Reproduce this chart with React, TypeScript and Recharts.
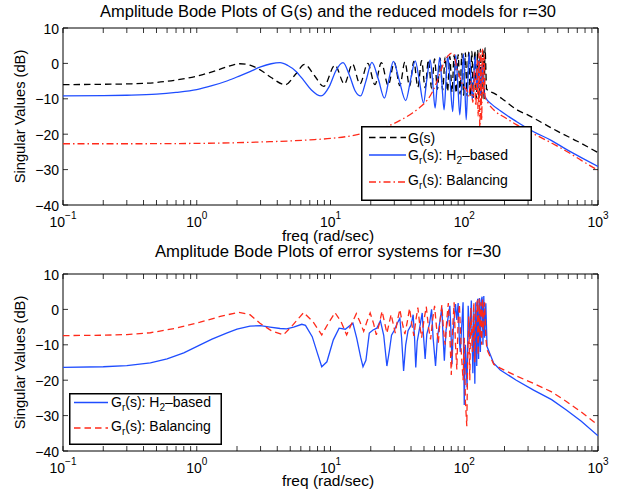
import React from 'react';
import { LineChart, Line, XAxis, YAxis, ReferenceArea, Legend } from 'recharts';

const FONT = '"Liberation Sans", Arial, Helvetica, sans-serif';

// ---- tick labels ----
const xMajorTicks = [0.1, 1, 10, 100, 1000];
const xMajorExponents = ['\u22121', '0', '1', '2', '3'];
const xMinorTicks = [0.2, 0.3, 0.4, 0.5, 0.6, 0.7, 0.8, 0.9, 2, 3, 4, 5, 6, 7, 8, 9, 20, 30, 40, 50, 60, 70, 80, 90, 200, 300, 400, 500, 600, 700, 800, 900];
const yTicks = [-40, -30, -20, -10, 0, 10];
const yTickLabels = ['\u221240', '\u221230', '\u221220', '\u221210', '0', '10'];

// ---- titles ----
const topTitle = 'Amplitude Bode Plots of G(s) and the reduced models for r=30';
const bottomTitle = 'Amplitude Bode Plots of error systems for r=30';
const xLabel = 'freq (rad/sec)';
const yLabel = 'Singular Values (dB)';

// ---- top panel: G(s) ----
const topGFreq = [0.1, 0.2, 0.3, 0.5, 0.7, 1.0, 1.4, 1.8, 2.1, 2.5, 3.0, 3.6, 4.6, 5.5, 6.4, 7.6, 8.9, 10.8, 12.7, 14.6, 16.6, 19.0, 21.5,
  24, 27, 30, 33, 36, 39, 42, 45, 48, 51, 54, 57, 60, 63, 66, 69, 72, 75, 78, 81, 84, 87, 90, 93, 96, 99, 102, 105, 108, 111, 114, 117, 120, 123, 126, 129, 132, 135, 138, 141, 143,
  147, 170, 200, 250, 300, 400, 500, 700, 1000];
const topGDb = [-6.0, -5.9, -5.8, -5.4, -4.7, -3.6, -2.0, -0.6, -0.1, -0.5, -1.9, -4.0, -6.0, -3.0, -0.3, -3.5, -6.5, -0.5, -5.8, -0.2, -5.8, 0.0, -6.0,
  0.2, -6.2, 0.3, -6.3, 0.4, -6.5, 0.6, -6.7, 0.8, -6.9, 1.0, -7.1, 1.3, -7.3, 1.5, -7.6, 1.8, -7.9, 2.0, -8.1, 2.3, -8.4, 2.5, -8.7, 2.8, -9.0, 3.0, -9.2, 3.2, -9.4, 3.4, -9.6, 3.6, -9.8, 3.8, -9.9, 4.0, -10.0, 4.2, -10.1, 4.4,
  -7.3, -8.6, -10.5, -13.2, -14.6, -17.2, -19.2, -22.0, -25.2];

// ---- top panel: Gr(s) H2-based ----
const topH2Freq = [0.1, 0.2, 0.3, 0.5, 0.7, 1.0, 1.3, 1.7, 2.1, 2.5, 3.0, 3.6, 4.2, 4.8, 5.5, 6.3, 7.2, 8.5, 9.8, 11.0, 12.4, 13.9, 15.3, 16.8, 18.4, 20.4, 22.8, 25.3, 27.5, 29.5, 32.5, 36.5, 40.0, 43.0, 46.0, 49.6, 52.5, 55.6, 58.0, 60.5, 63.0, 65.5, 68.0, 70.7, 73.0, 75.1, 78.5, 82.0, 84.2, 86.4, 89.5, 92.6, 95.7, 98.8, 101, 103.4, 106, 109, 112, 115, 118, 121, 125, 129, 133, 137, 141, 145, 160, 186, 245, 330, 450, 580, 750, 1000];
const topH2Db = [-9.2, -9.1, -9.0, -8.7, -8.2, -7.4, -6.3, -4.9, -3.5, -2.3, -1.0, -0.1, 0.2, -0.6, -2.2, -4.8, -7.5, -9.2, -6.5, -2.0, 0.2, -3.5, -7.8, -9.2, -5.0, 0.3, -4.5, -9.8, -4.0, 0.6, -4.5, -10.5, -4.0, 0.7, -4.5, -11.2, -4.5, 1.0, -5.0, -12.6, -5.0, 1.7, -5.5, -13.1, -5.0, 2.1, -5.5, -13.6, -5.0, 2.4, -6.0, -14.5, -6.0, 2.7, -6.5, -15.9, -6.5, 2.9, -4.0, -10.3, -3.0, 2.0, -8.0, 1.0, -9.0, 0.5, -8.5, -9.8, -11.5, -13.4, -16.4, -19.3, -21.8, -24.3, -26.6, -29.1];

// ---- top panel: Gr(s) Balancing ----
const topBalFreq = [0.1, 0.3, 1.0, 2.0, 3.0, 5.0, 7.0, 10, 13, 17, 22, 29, 35, 41, 46, 50, 56, 62, 67, 71, 76, 81, 84, 88, 92, 96, 100, 104, 108, 112, 116, 119, 122, 125, 127, 129, 131, 133, 135, 137, 139, 141, 143, 150, 170, 200, 245, 330, 450, 580, 750, 1000];
const topBalDb = [-22.7, -22.7, -22.6, -22.4, -22.2, -21.9, -21.6, -21.2, -20.7, -19.9, -18.8, -17.2, -15.6, -14.0, -12.6, -11.4, -9.0, -5.5, -2.0, 0.5, 2.2, 2.9, 2.5, -1.5, -3.5, -5.5, -6.8, -7.5, -9.2, -5.0, -11.0, -2.0, -12.0, 1.0, -15.0, 3.0, -20.0, 3.5, -16.0, 4.0, -9.0, 2.5, -9.4, -11.0, -13.5, -15.2, -17.3, -19.9, -22.5, -24.8, -27.4, -30.2];

// ---- bottom panel: error H2-based ----
const botH2Freq = [0.1, 0.2, 0.3, 0.45, 0.6, 0.8, 1.06, 1.3, 1.67, 2.0, 2.5, 3.0, 3.53, 4.2, 4.7, 5.3, 6.1, 6.5, 7.3, 8.0, 8.6, 9.4, 10.5, 11.6, 12.9, 14.7, 15.7, 16.8, 17.5, 18.4, 19.5, 20.8, 22.2, 23.6, 25.0, 26.4, 27.6, 28.6, 30.0, 31.5, 33.0, 34.0, 35.2, 36.5, 38.0, 40.0, 41.5, 42.5, 43.4, 44.5, 46.5, 48.5, 49.5, 51.0, 52.5, 55.0, 57.0, 58.5, 61.0, 63.0, 66.0, 68.0, 69.5, 71.0, 73.0, 76.0, 78.0, 79.5, 81.0, 83.0, 86.0, 88.0, 90.0, 92.0, 93.4, 96.0, 98.0, 100, 102, 105, 107, 110, 113, 116, 118, 120, 122, 124, 126, 128, 130, 132, 134, 136, 138, 140, 142, 145, 148, 166, 186, 245, 330, 450, 580, 750, 1000];
const botH2Db = [-16.4, -16.2, -15.9, -15.1, -14.0, -12.3, -10.0, -8.4, -6.7, -5.6, -4.7, -4.6, -5.0, -5.4, -5.5, -5.0, -4.2, -4.5, -7.7, -12.5, -16.2, -14.8, -8.6, -5.3, -5.6, -3.9, -8.1, -13.5, -16.2, -14.4, -6.7, -5.8, -5.3, -3.2, -7.3, -16.0, -11.5, -7.3, -5.9, -4.0, -2.5, -8.0, -17.4, -10.0, -6.0, -4.5, -1.5, -8.0, -16.4, -9.0, -5.0, -1.0, -7.0, -14.0, -7.0, -4.0, 0.0, -8.0, -16.0, -8.0, -3.0, 0.5, -8.0, -14.5, -6.0, -2.0, 1.0, -6.0, -15.5, -5.0, 1.5, -3.0, 1.8, -9.0, -12.0, -4.0, 2.0, -27.0, -10.0, -22.0, 1.0, -8.0, 2.5, -18.0, 0.0, -21.0, 2.0, -16.0, 3.0, -14.0, 3.2, -12.0, 2.5, 3.6, -10.0, 3.8, -8.0, 1.7, -10.5, -15.2, -17.1, -20.0, -22.8, -25.5, -28.4, -31.6, -35.7];

// ---- bottom panel: error Balancing ----
const botBalFreq = [0.1, 0.2, 0.3, 0.45, 0.7, 1.06, 1.5, 2.05, 2.5, 2.97, 3.6, 4.45, 5.2, 6.3, 7.4, 8.6, 9.6, 10.8, 12.0, 13.2, 14.4, 15.6, 16.6, 17.7, 18.7, 19.8, 21.0, 22.0, 23.2, 24.3, 25.3, 26.4, 27.4, 28.4, 29.4, 30.5, 31.7, 33.0, 34.5, 36.0, 37.5, 39.0, 40.5, 42.0, 43.5, 45.0, 46.5, 48.0, 50.0, 52.0, 54.0, 56.0, 58.0, 60.0, 62.0, 64.0, 66.0, 68.0, 70.0, 72.0, 74.0, 76.0, 78.0, 80.0, 82.0, 84.0, 86.0, 88.0, 90.0, 92.0, 95.0, 98.0, 100, 102, 104.5, 106, 108, 110, 112, 115, 118, 120, 122, 125, 127, 129, 131, 133, 135, 137, 139, 142, 145, 148, 166, 186, 245, 330, 450, 580, 750, 1000];
const botBalDb = [-7.4, -7.3, -7.1, -6.6, -5.3, -3.6, -2.0, -0.8, -1.5, -3.9, -6.0, -7.2, -4.5, -0.9, -3.5, -7.2, -4.0, -0.9, -3.5, -7.2, -4.0, -1.2, -3.5, -6.2, -3.5, -1.0, -4.0, -7.2, -4.0, -0.5, -3.5, -6.7, -4.0, -1.4, -4.0, -6.7, -3.0, 0.0, -4.0, -7.0, -3.5, 0.3, -4.0, -7.5, -3.0, 0.5, -4.5, -8.0, -3.0, 0.8, -5.0, -8.5, -3.0, 1.0, -5.0, -9.5, -3.0, 1.2, -6.0, -10.0, -3.0, 1.8, -7.0, -18.5, -5.0, 2.0, -10.0, -17.0, -3.0, 1.5, -12.0, -20.0, -8.0, -26.0, -33.0, -15.0, -2.0, -20.0, 0.5, -12.0, 2.0, -15.0, -2.0, 2.5, -13.0, 3.0, -8.0, 2.0, -10.0, 3.0, -6.0, 2.0, -8.0, -11.4, -15.5, -16.6, -18.8, -20.9, -23.3, -26.0, -29.0, -32.7];

const zip = (f: number[], v: number[]) => f.map((x, i) => ({ f: x, v: v[i] }));

const BLUE = '#1f4dff';
const RED = '#ff2a1a';
const LW = 1.3;
const DASH = '6.5 4';
const DASHDOT = '7 3 1.5 3';

const W = 629;
const PLOT_LEFT = 63;
const PLOT_RIGHT = 598;

function renderXTick(props: any, plotTop: number, plotBottom: number) {
  const { x, payload } = props;
  const idx = xMajorTicks.indexOf(payload.value);
  return (
    <g>
      <line x1={x} x2={x} y1={plotBottom} y2={plotBottom - 5} stroke="#000" strokeWidth={0.8} />
      <line x1={x} x2={x} y1={plotTop} y2={plotTop + 5} stroke="#000" strokeWidth={0.8} />
      {idx >= 0 && (
        <text x={x} y={plotBottom + 21.5} textAnchor="middle" fontFamily={FONT} fontSize={14} fill="#000">
          10<tspan dy={-7.5} fontSize={10}>{xMajorExponents[idx]}</tspan>
        </text>
      )}
    </g>
  );
}

function renderYTick(props: any) {
  const { y, payload } = props;
  const idx = yTicks.indexOf(payload.value);
  return (
    <g>
      <line x1={PLOT_LEFT} x2={PLOT_LEFT + 5} y1={y} y2={y} stroke="#000" strokeWidth={0.8} />
      <line x1={PLOT_RIGHT - 5} x2={PLOT_RIGHT} y1={y} y2={y} stroke="#000" strokeWidth={0.8} />
      <text x={PLOT_LEFT - 4} y={y + 5.5} textAnchor="end" fontFamily={FONT} fontSize={14} fill="#000">
        {yTickLabels[idx]}
      </text>
    </g>
  );
}

const legendText = { fontFamily: FONT, fontSize: 14, fill: '#000' } as const;

function GrLabel({ x, y, rest, sub }: { x: number; y: number; rest: string; sub?: [string, string] }) {
  return (
    <text x={x} y={y} {...legendText}>
      G<tspan dy={4} fontSize={10}>r</tspan>
      <tspan dy={-4}>{rest}</tspan>
      {sub && (
        <>
          <tspan dy={4} fontSize={10}>{sub[0]}</tspan>
          <tspan dy={-4}>{sub[1]}</tspan>
        </>
      )}
    </text>
  );
}

function TopLegend() {
  return (
    <svg width={171} height={75} style={{ display: 'block' }}>
      <rect x={0.75} y={0.75} width={169.5} height={73.5} fill="#fff" stroke="#000" strokeWidth={1.5} />
      <line x1={8} x2={45} y1={11.5} y2={11.5} stroke="#000" strokeWidth={LW} strokeDasharray={DASH} />
      <text x={47} y={16.5} {...legendText}>G(s)</text>
      <line x1={8} x2={45} y1={29} y2={29} stroke={BLUE} strokeWidth={LW} />
      <GrLabel x={47} y={34} rest="(s): H" sub={['2', '\u2013based']} />
      <line x1={8} x2={45} y1={56} y2={56} stroke={RED} strokeWidth={LW} strokeDasharray={DASHDOT} />
      <GrLabel x={47} y={58.5} rest="(s): Balancing" />
    </svg>
  );
}

function BottomLegend() {
  return (
    <svg width={153} height={52} style={{ display: 'block' }}>
      <rect x={0.75} y={0.75} width={151.5} height={50.5} fill="#fff" stroke="#000" strokeWidth={1.5} />
      <line x1={5} x2={39} y1={9.5} y2={9.5} stroke={BLUE} strokeWidth={LW} />
      <GrLabel x={42} y={14} rest="(s): H" sub={['2', '\u2013based']} />
      <line x1={5} x2={39} y1={35} y2={35} stroke={RED} strokeWidth={LW} strokeDasharray={DASH} />
      <GrLabel x={42} y={37.5} rest="(s): Balancing" />
    </svg>
  );
}

type SeriesDef = { key: string; data: { f: number; v: number }[]; color: string; dash?: string; curve: 'monotone' | 'linear' };

function Panel({ top, height, plotTop, plotBottom, series, legend, legendBox }: {
  top: number; height: number; plotTop: number; plotBottom: number; series: SeriesDef[];
  legend: React.ReactNode; legendBox: { left: number; top: number; width: number; height: number };
}) {
  return (
    <div style={{ position: 'absolute', left: 0, top, width: W, height }}>
      <LineChart width={W} height={height} margin={{ top: plotTop, right: W - PLOT_RIGHT, bottom: 0, left: 0 }}>
        <XAxis
          dataKey="f"
          type="number"
          scale="log"
          domain={[0.1, 1000]}
          allowDataOverflow
          ticks={[...xMajorTicks, ...xMinorTicks]}
          interval={0}
          tick={(p: any) => renderXTick(p, plotTop, plotBottom)}
          tickLine={false}
          axisLine={false}
          tickSize={0}
          height={height - plotBottom}
        />
        <YAxis
          type="number"
          domain={[-40, 10]}
          allowDataOverflow
          ticks={yTicks}
          interval={0}
          width={PLOT_LEFT}
          tick={renderYTick}
          tickLine={false}
          axisLine={false}
          tickSize={0}
        />
        <ReferenceArea x1={0.1} x2={1000} y1={-40} y2={10} fill="none" stroke="#000" strokeWidth={1} />
        {series.map((s) => (
          <Line
            key={s.key}
            data={s.data}
            dataKey="v"
            name={s.key}
            type={s.curve}
            stroke={s.color}
            strokeWidth={LW}
            strokeDasharray={s.dash}
            dot={false}
            activeDot={false}
            isAnimationActive={false}
          />
        ))}
        <Legend
          layout="horizontal"
          verticalAlign="middle"
          align="center"
          content={() => legend}
          wrapperStyle={{ left: legendBox.left, top: legendBox.top, width: legendBox.width, height: legendBox.height }}
        />
      </LineChart>
    </div>
  );
}

export default function App() {
  const topSeries: SeriesDef[] = [
    { key: 'G(s)', data: zip(topGFreq, topGDb), color: '#000', dash: DASH, curve: 'monotone' },
    { key: 'Gr(s): H2-based', data: zip(topH2Freq, topH2Db), color: BLUE, curve: 'monotone' },
    { key: 'Gr(s): Balancing', data: zip(topBalFreq, topBalDb), color: RED, dash: DASHDOT, curve: 'monotone' },
  ];
  const botSeries: SeriesDef[] = [
    { key: 'Gr(s): H2-based', data: zip(botH2Freq, botH2Db), color: BLUE, curve: 'linear' },
    { key: 'Gr(s): Balancing', data: zip(botBalFreq, botBalDb), color: RED, dash: DASH, curve: 'linear' },
  ];
  const textStyle = { fontFamily: FONT, fill: '#000' } as const;
  const cx = 328;
  return (
    <div style={{ position: 'absolute', left: 0, top: 0, width: W, height: 500, background: '#fff', overflow: 'hidden' }}>
      <Panel top={0} height={250} plotTop={28} plotBottom={205} series={topSeries}
        legend={<TopLegend />} legendBox={{ left: 361, top: 126, width: 171, height: 75 }} />
      <Panel top={240} height={260} plotTop={34} plotBottom={211} series={botSeries}
        legend={<BottomLegend />} legendBox={{ left: 69, top: 153, width: 153, height: 52 }} />
      <svg width={W} height={500} style={{ position: 'absolute', left: 0, top: 0, pointerEvents: 'none' }}>
        <text x={cx} y={17} textAnchor="middle" fontSize={16} textLength={456} lengthAdjust="spacingAndGlyphs" {...textStyle}>{topTitle}</text>
        <text x={cx} y={240.5} textAnchor="middle" fontSize={15.5} {...textStyle}>{xLabel}</text>
        <text transform="translate(25,116.5) rotate(-90)" textAnchor="middle" fontSize={14.7} {...textStyle}>{yLabel}</text>
        <text x={cx} y={257} textAnchor="middle" fontSize={16} textLength={346} lengthAdjust="spacingAndGlyphs" {...textStyle}>{bottomTitle}</text>
        <text x={cx} y={486} textAnchor="middle" fontSize={15.5} {...textStyle}>{xLabel}</text>
        <text transform="translate(25,362.5) rotate(-90)" textAnchor="middle" fontSize={14.7} {...textStyle}>{yLabel}</text>
      </svg>
    </div>
  );
}
